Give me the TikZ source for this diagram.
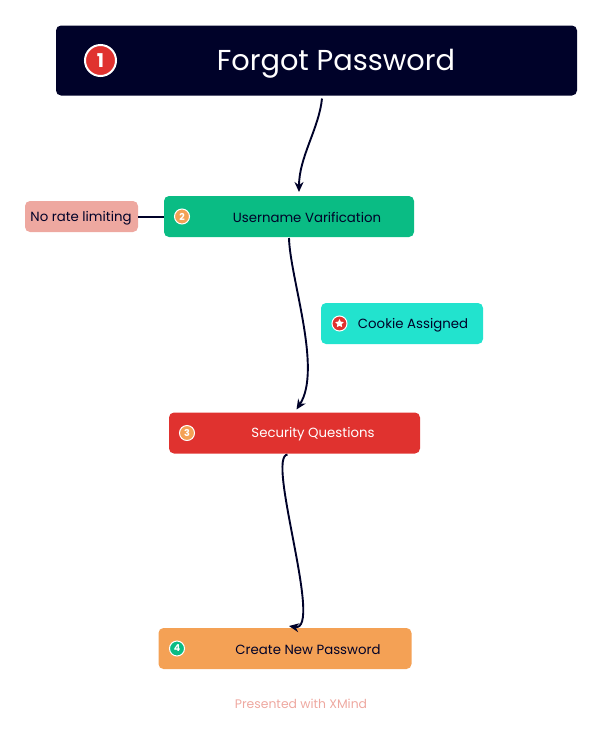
\documentclass[tikz,border=0pt]{standalone}
\usepackage{fontspec}
\setmainfont{Poppins}
\usetikzlibrary{arrows.meta,shapes.geometric,calc}
\definecolor{navy}{HTML}{000229}
\definecolor{tealgreen}{HTML}{0ABC84}
\definecolor{redish}{HTML}{E0322F}
\definecolor{orangeish}{HTML}{F4A155}
\definecolor{pinkish}{HTML}{EEA8A0}
\definecolor{cyanish}{HTML}{22E3CE}
\tikzset{
  x=1pt,y=-1pt,
  box/.style={rounded corners=5pt,inner sep=0pt,outer sep=0pt},
  label text/.style={font=\fontsize{13.3}{15}\selectfont,inner sep=0pt,anchor=center},
  marker/.style={circle,draw=white,line width=1pt,inner sep=0pt,minimum size=15pt,text=white,font=\fontsize{9.5}{10}\selectfont\bfseries},
  flow/.style={draw=navy,line width=1.9pt,-{Stealth[length=10pt,width=9pt]}},
}
\begin{document}
\begin{tikzpicture}
\useasboundingbox (0,0) rectangle (602,729);
\node[box,fill=navy,minimum width=521pt,minimum height=70pt] (root) at (316.5,60.5) {};
\node[text=white,inner sep=0pt,font=\fontsize{28.8}{30}\selectfont] (roott) at (336,64) {Forgot Password};
\node[marker,fill=redish,line width=2pt,minimum size=31pt,font=\fontsize{19}{20}\selectfont\bfseries] (m1) at (100.5,60.5) {1};

\node[box,fill=tealgreen,minimum width=250pt,minimum height=41pt] (user) at (289,216.5) {};
\node[label text,text=navy] (usert) at (307,217.5) {Username Varification};
\node[marker,fill=orangeish] (m2) at (182,216.5) {2};

\node[box,fill=pinkish,minimum width=113pt,minimum height=31pt] (norate) at (81.5,216.5) {};
\node[label text,text=navy] (noratet) at (81,218) {No rate limiting};

\node[box,fill=cyanish,minimum width=162pt,minimum height=41pt] (cookie) at (402,323.5) {};
\node[label text,text=navy] (cookiet) at (413,325) {Cookie Assigned};
\node[circle,fill=redish,draw=white,line width=1pt,inner sep=0pt,minimum size=15pt] (m5) at (339.5,323.5) {};
\node[star,star points=5,star point ratio=2,fill=white,inner sep=0pt,minimum size=9pt] (m5s) at (339.5,323.5) {};

\node[box,fill=redish,minimum width=251pt,minimum height=41pt] (sec) at (294.5,433) {};
\node[label text,text=white] (sect) at (313,434.5) {Security Questions};
\node[marker,fill=orangeish] (m3) at (187,433) {3};

\node[box,fill=orangeish,minimum width=253pt,minimum height=41pt] (newpw) at (285,648.5) {};
\node[label text,text=navy] (newpwt) at (308,649.5) {Create New Password};
\node[marker,fill=tealgreen] (m4) at (177,648.5) {4};

\node[inner sep=0pt,text=pinkish,font=\fontsize{12.4}{13}\selectfont] (foot) at (301,704) {Presented with XMind};

\draw[flow] ([xshift=5.5pt,yshift=-3pt]root.south) .. controls +(-3,30) and +(0,-35) .. ([xshift=10pt,yshift=4pt]user.north);
\draw[flow] ([yshift=-1pt]user.south) .. controls +(1,40) and +(26,-40) .. ([xshift=2pt,yshift=3pt]sec.north);
\draw[flow] ([xshift=-7pt,yshift=-1pt]sec.south) .. controls +(-22,2) and +(35,6) .. ([xshift=4pt,yshift=2pt]newpw.north);
\draw[draw=navy,line width=2pt] (norate.east) -- (user.west);
\end{tikzpicture}
\end{document}
